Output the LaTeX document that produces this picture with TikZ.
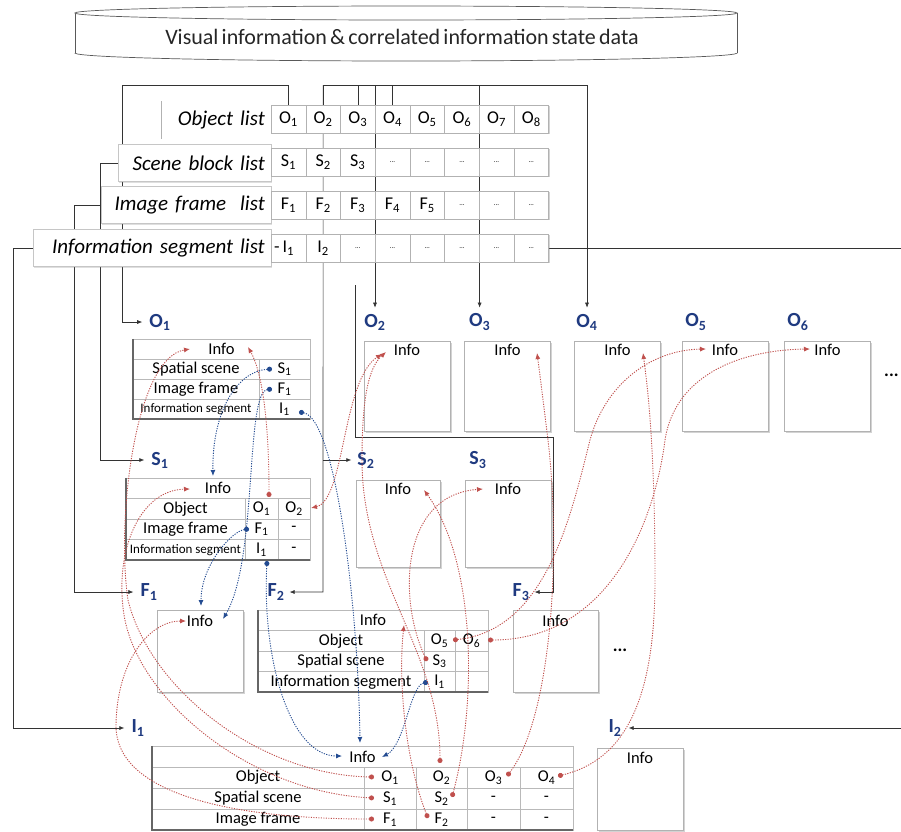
\documentclass[tikz,border=0pt]{standalone}
\usepackage{fontspec}
\setmainfont{Carlito}
\newfontfamily\tightfont{Carlito}[WordSpace=0.65]
\usetikzlibrary{arrows.meta,shadows,calc}
\definecolor{myred}{RGB}{192,80,77}
\definecolor{myblue}{RGB}{35,75,145}
\definecolor{labblue}{RGB}{31,58,128}
\newcommand{\sbs}[1]{\textsubscript{#1}}
\newcommand{\ldd}{{\fontsize{7}{7}\selectfont ...}}
\pgfdeclarelayer{bg}
\pgfsetlayers{bg,main}
\begin{document}
\begin{tikzpicture}[x=1pt,y=-1pt,
  conn/.style={draw=black!80, line width=0.6pt},
  arr/.style={arrows={-Latex[length=5pt,width=4pt]}},
  cyl/.style={draw=black!65, line width=0.7pt},
  cell/.style={draw=gray!60, fill=white, minimum height=28pt, minimum width=34.7pt, inner sep=0pt,
     font=\fontsize{18}{18}\selectfont, drop shadow={shadow xshift=1.2pt,shadow yshift=-1.2pt,opacity=0.35}},
  lblbox/.style={draw=gray!45, fill=white, minimum height=37pt, inner sep=6pt, anchor=east, align=right,
     font=\tightfont\fontsize{21}{21}\selectfont\itshape},
  dlab/.style={font=\fontsize{20}{20}\selectfont\bfseries, text=labblue, inner sep=1pt},
  tc/.style={draw=gray!55, fill=white, inner sep=0pt, font=\fontsize{16.5}{16.5}\selectfont},
  small/.style={font=\fontsize{13}{13}\selectfont},
  tframe/.style={draw=black!60, line width=1.5pt},
  ibox/.style={draw=gray!60, fill=white, minimum width=86pt, minimum height=90pt,
     drop shadow={shadow xshift=1.5pt,shadow yshift=-1.5pt,opacity=0.35}},
  itxt/.style={font=\fontsize{16.5}{16.5}\selectfont, inner sep=1pt},
  rc/.style={draw=myred, line width=0.9pt, dash pattern=on 1.2pt off 1.3pt,
     arrows={Circle[length=5pt]-Latex[length=6pt,width=5pt]}},
  bc/.style={draw=myblue, line width=0.9pt, dash pattern=on 1.2pt off 1.3pt,
     arrows={Circle[length=5pt]-Latex[length=6pt,width=5pt]}},
  bigdots/.style={font=\fontsize{18}{18}\selectfont\bfseries, inner sep=0pt}
]
\useasboundingbox (0,0) rectangle (901,831);

% ---------- database cylinder ----------
\begin{scope}
  \clip (60,53) rectangle (760,75);
  \draw[cyl] (406,53) ellipse[x radius=331, y radius=8];
\end{scope}
\draw[cyl] (75,13) -- (75,53);
\draw[cyl] (737,13) -- (737,53);
\draw[cyl, fill=white] (406,13) ellipse[x radius=331, y radius=7];
\node[font=\tightfont\fontsize{22}{22}\selectfont, text=black!85] (db) at (402,37) {Visual information \& correlated information state data};

% ---------- list label boxes ----------
\node[lblbox, text width=97pt, draw=none] (lobj) at (271,120) {Object list};
\node[lblbox, text width=141pt, drop shadow={shadow xshift=1.2pt,shadow yshift=-1.2pt,opacity=0.25}] (lscn) at (271,163) {Scene block list};
\node[lblbox, text width=158pt, drop shadow={shadow xshift=1.2pt,shadow yshift=-1.2pt,opacity=0.25}] (lfrm) at (271,205) {Image frame~ list};
\node[lblbox, text width=226pt, drop shadow={shadow xshift=1.2pt,shadow yshift=-1.2pt,opacity=0.25}] (lseg) at (271,248) {Information segment list};
\draw[gray!60] (lobj.north west) -- (lobj.south west);

% ---------- list cells ----------
\foreach \i/\t in {1/O\sbs{1},2/O\sbs{2},3/O\sbs{3},4/O\sbs{4},5/O\sbs{5},6/O\sbs{6},7/O\sbs{7},8/O\sbs{8}}
  \node[cell] (lo\i) at ({288.4+34.7*(\i-1)},119) {\t};
\foreach \i/\t in {1/S\sbs{1},2/S\sbs{2},3/S\sbs{3},4/\ldd,5/\ldd,6/\ldd,7/\ldd,8/\ldd}
  \node[cell] (ls\i) at ({288.4+34.7*(\i-1)},162) {\t};
\foreach \i/\t in {1/F\sbs{1},2/F\sbs{2},3/F\sbs{3},4/F\sbs{4},5/F\sbs{5},6/\ldd,7/\ldd,8/\ldd}
  \node[cell] (lf\i) at ({288.4+34.7*(\i-1)},205) {\t};
\foreach \i/\t in {1/\makebox[0pt][r]{-\hspace{3pt}}I\sbs{1},2/I\sbs{2},3/\ldd,4/\ldd,5/\ldd,6/\ldd,7/\ldd,8/\ldd}
  \node[cell] (li\i) at ({288.4+34.7*(\i-1)},248) {\t};

% ---------- detail labels ----------
\node[dlab] (o1lab) at (160,322) {O\sbs{1}};
\node[dlab] (o2lab) at (375,322) {O\sbs{2}};
\node[dlab] (o3lab) at (479.6,322) {O\sbs{3}};
\node[dlab] (o4lab) at (587,322) {O\sbs{4}};
\node[dlab] (o5lab) at (696,322) {O\sbs{5}};
\node[dlab] (o6lab) at (798,322) {O\sbs{6}};
\node[dlab] (s1lab) at (160,460) {S\sbs{1}};
\node[dlab] (s2lab) at (366,460) {S\sbs{2}};
\node[dlab] (s3lab) at (478,460) {S\sbs{3}};
\node[dlab] (f1lab) at (149,592) {F\sbs{1}};
\node[dlab] (f2lab) at (276,592) {F\sbs{2}};
\node[dlab] (f3lab) at (521,592) {F\sbs{3}};
\node[dlab] (i1lab) at (138,728) {I\sbs{1}};
\node[dlab] (i2lab) at (615,728) {I\sbs{2}};

% ---------- O1 table ----------
\node[tc, minimum width=177pt, minimum height=20pt] (o1i) at (221.5,349) {Info};
\node[tc, minimum width=126pt, minimum height=20pt] (o1r2a) at (196,369) {Spatial scene};
\node[tc, minimum width=51pt, minimum height=20pt] (o1r2b) at (284.5,369) {S\sbs{1}};
\node[tc, minimum width=126pt, minimum height=20pt] (o1r3a) at (196,389) {Image frame};
\node[tc, minimum width=51pt, minimum height=20pt] (o1r3b) at (284.5,389) {F\sbs{1}};
\node[tc, small, minimum width=126pt, minimum height=20pt] (o1r4a) at (196,409) {Information segment};
\node[tc, minimum width=51pt, minimum height=20pt] (o1r4b) at (284.5,409) {I\sbs{1}};
\draw[tframe] (o1i.north west) -- (o1r4a.south west) -- (o1r4b.south east);

% ---------- O2..O6 boxes ----------
\node[ibox] (o2b) at (407,386) {};   \node[itxt] (o2i) at (407,350) {Info};
\node[ibox] (o3b) at (507.5,386) {}; \node[itxt] (o3i) at (507.5,350) {Info};
\node[ibox] (o4b) at (617.5,386) {}; \node[itxt] (o4i) at (617.5,350) {Info};
\node[ibox] (o5b) at (725,386) {};   \node[itxt] (o5i) at (725,350) {Info};
\node[ibox] (o6b) at (827.5,386) {}; \node[itxt] (o6i) at (827.5,350) {Info};
\node[bigdots, anchor=west] (dots1) at (884,375) {...};

% ---------- S1 table ----------
\node[tc, minimum width=184pt, minimum height=20.5pt] (s1i) at (218,488.25) {Info};
\node[tc, minimum width=119pt, minimum height=20.5pt] (s1r2a) at (185.5,508.75) {Object};
\node[tc, minimum width=33pt, minimum height=20.5pt] (s1r2b) at (261.5,508.75) {O\sbs{1}};
\node[tc, minimum width=32pt, minimum height=20.5pt] (s1r2c) at (294,508.75) {O\sbs{2}};
\node[tc, minimum width=119pt, minimum height=20.5pt] (s1r3a) at (185.5,529.25) {Image frame};
\node[tc, minimum width=33pt, minimum height=20.5pt] (s1r3b) at (261.5,529.25) {F\sbs{1}};
\node[tc, minimum width=32pt, minimum height=20.5pt] (s1r3c) at (294,529.25) {-};
\node[tc, small, minimum width=119pt, minimum height=20.5pt] (s1r4a) at (185.5,549.75) {Information segment};
\node[tc, minimum width=33pt, minimum height=20.5pt] (s1r4b) at (261.5,549.75) {I\sbs{1}};
\node[tc, minimum width=32pt, minimum height=20.5pt] (s1r4c) at (294,549.75) {-};
\draw[tframe] (s1i.north west) -- (s1r4a.south west) -- (s1r4c.south east);

% ---------- S2, S3 boxes ----------
\node[ibox, minimum width=84pt, minimum height=87pt] (s2b) at (398,523.5) {}; \node[itxt] (s2i) at (398,489) {Info};
\node[ibox, minimum width=86pt, minimum height=87pt] (s3b) at (508,523.5) {}; \node[itxt] (s3i) at (508,489) {Info};

% ---------- F1 box, F2 table, F3 box ----------
\node[ibox, minimum height=82pt] (f1b) at (200,651) {}; \node[itxt] (f1i) at (200,621) {Info};
\node[tc, minimum width=230pt, minimum height=20.5pt] (f2i) at (373,620.25) {Info};
\node[tc, minimum width=166pt, minimum height=20.5pt] (f2r2a) at (341,640.75) {Object};
\node[tc, minimum width=31pt, minimum height=20.5pt] (f2r2b) at (439.5,640.75) {O\sbs{5}};
\node[tc, minimum width=33pt, minimum height=20.5pt] (f2r2c) at (471.5,640.75) {O\sbs{6}};
\node[tc, minimum width=166pt, minimum height=20.5pt] (f2r3a) at (341,661.25) {Spatial scene};
\node[tc, minimum width=31pt, minimum height=20.5pt] (f2r3b) at (439.5,661.25) {S\sbs{3}};
\node[tc, minimum width=33pt, minimum height=20.5pt] (f2r3c) at (471.5,661.25) {};
\node[tc, minimum width=166pt, minimum height=20.5pt] (f2r4a) at (341,681.75) {Information segment};
\node[tc, minimum width=31pt, minimum height=20.5pt] (f2r4b) at (439.5,681.75) {I\sbs{1}};
\node[tc, minimum width=33pt, minimum height=20.5pt] (f2r4c) at (471.5,681.75) {};
\draw[tframe] (f2i.north west) -- (f2r4a.south west) -- (f2r4c.south east);
\node[ibox, minimum width=85pt, minimum height=82pt] (f3b) at (555.5,651) {}; \node[itxt] (f3i) at (555.5,621) {Info};
\node[bigdots] (dots2) at (620,650) {...};

% ---------- I1 table, I2 box ----------
\node[tc, minimum width=421pt, minimum height=21pt] (i1i) at (362.5,756.5) {Info};
\node[tc, minimum width=212pt, minimum height=21pt] (i1r2a) at (258,777.5) {Object};
\node[tc, minimum width=52pt, minimum height=21pt] (i1r2b) at (390,777.5) {O\sbs{1}};
\node[tc, minimum width=51pt, minimum height=21pt] (i1r2c) at (441.5,777.5) {O\sbs{2}};
\node[tc, minimum width=53pt, minimum height=21pt] (i1r2d) at (493.5,777.5) {O\sbs{3}};
\node[tc, minimum width=53pt, minimum height=21pt] (i1r2e) at (546.5,777.5) {O\sbs{4}};
\node[tc, minimum width=212pt, minimum height=21pt] (i1r3a) at (258,798.5) {Spatial scene};
\node[tc, minimum width=52pt, minimum height=21pt] (i1r3b) at (390,798.5) {S\sbs{1}};
\node[tc, minimum width=51pt, minimum height=21pt] (i1r3c) at (441.5,798.5) {S\sbs{2}};
\node[tc, minimum width=53pt, minimum height=21pt] (i1r3d) at (493.5,798.5) {-};
\node[tc, minimum width=53pt, minimum height=21pt] (i1r3e) at (546.5,798.5) {-};
\node[tc, minimum width=212pt, minimum height=21pt] (i1r4a) at (258,819.5) {Image frame};
\node[tc, minimum width=52pt, minimum height=21pt] (i1r4b) at (390,819.5) {F\sbs{1}};
\node[tc, minimum width=51pt, minimum height=21pt] (i1r4c) at (441.5,819.5) {F\sbs{2}};
\node[tc, minimum width=53pt, minimum height=21pt] (i1r4d) at (493.5,819.5) {-};
\node[tc, minimum width=53pt, minimum height=21pt] (i1r4e) at (546.5,819.5) {-};
\draw[tframe] (i1i.north west) -- (i1r4a.south west) -- (i1r4e.south east);
\node[ibox, minimum height=82pt] (i2b) at (640,789) {}; \node[itxt] (i2i) at (640,758) {Info};

% ---------- black connectors (behind) ----------
\begin{pgfonlayer}{bg}
  \coordinate (ctopL) at (122,85);
  \coordinate (ctopR) at (587,85);
  \coordinate (cs1) at (100,460);
  \coordinate (cf1) at (74,592);
  \coordinate (ci1) at (13,728);
  \coordinate (ci2) at (906,728);
  \coordinate (cs2) at (323,460);
  \coordinate (cf2) at (323,592);
  \coordinate (cf3a) at (355,285);
  \coordinate (cf3b) at (553,437);
  \draw[conn,arr,shorten >=6pt] (lo1.north) |- (ctopL) |- (o1lab.west);
  \draw[conn] (lo2.north) |- (ctopR);
  \draw[conn,arr,shorten >=5pt] (ctopR) -- (o4lab.north);
  \draw[conn] (lo3.north) -- (lo3.north |- ctopR);
  \draw[conn] (lo4.north) -- (lo4.north |- ctopR);
  \draw[conn,arr,shorten >=5pt] (o2lab.north |- ctopR) -- (o2lab.north);
  \draw[conn,arr,shorten >=5pt] (o3lab.north |- ctopR) -- (o3lab.north);
  \draw[conn,arr,shorten >=4pt] (lo2.north |- ctopR) -- (cf2) -- (f2lab.east);
  \draw[conn,arr,shorten >=5pt] (cs2) -- (s2lab.west);
  \draw[conn,arr,shorten >=6pt] (lscn.west) -| (cs1) -- (s1lab.west);
  \draw[conn,arr,shorten >=6pt] (lfrm.west) -| (cf1) -- (f1lab.west);
  \draw[conn,arr,shorten >=6pt] (lseg.west) -| (ci1) -- (i1lab.west);
  \draw[conn,arr,shorten >=6pt] (li8.east) -| (ci2) -- (i2lab.east);
  \draw[conn,arr,shorten >=4pt] (cf3a) |- (cf3b) |- (f3lab.east);
\end{pgfonlayer}

% ---------- blue dotted connectors ----------
\coordinate (b1s) at (272,369); \coordinate (b1e) at (213,476);
\coordinate (b2s) at (272,389); \coordinate (b2e) at (223,619);
\coordinate (b3s) at (249,529); \coordinate (b3e) at (201,606);
\coordinate (b4s) at (299,412); \coordinate (b4e) at (360,743);
\coordinate (b5s) at (267,561); \coordinate (b5e) at (342,756);
\coordinate (b6s) at (428,682); \coordinate (b6e) at (382,757);
\draw[bc] (b1s) .. controls (238,371) and (212,410) .. (b1e);
\draw[bc] (b2s) .. controls (245,392) and (258,560) .. (b2e);
\draw[bc] (b3s) .. controls (232,531) and (201,565) .. (b3e);
\draw[bc] (b4s) .. controls (335,418) and (358,600) .. (b4e);
\draw[bc] (b5s) .. controls (262,660) and (290,756) .. (b5e);
\draw[bc] (b6s) .. controls (410,686) and (405,745) .. (b6e);

% ---------- red dotted connectors ----------
\coordinate (r1s) at (374,777); \coordinate (r1e) at (190,349);
\coordinate (r2s) at (374,798); \coordinate (r2e) at (190,489);
\coordinate (r3s) at (374,819); \coordinate (r3e) at (186,621);
\coordinate (r4s) at (269,497); \coordinate (r4e) at (248,347);
\coordinate (r5s) at (311,508); \coordinate (r5e) at (382,354);
\coordinate (r6s) at (440,763); \coordinate (r6e) at (386,352);
\coordinate (r7s) at (452,797); \coordinate (r7e) at (424,490);
\coordinate (r8s) at (428,818); \coordinate (r8e) at (404,625);
\coordinate (r9s) at (427,661); \coordinate (r9e) at (483,489);
\coordinate (r10s) at (453,640); \coordinate (r10e) at (706,349);
\coordinate (r11s) at (488,640); \coordinate (r11e) at (810,349);
\coordinate (r12s) at (507,776); \coordinate (r12e) at (537,353);
\coordinate (r13s) at (558,776); \coordinate (r13e) at (643,353);
\draw[rc] (r1s) .. controls (260,775) and (150,690) .. (128,600) .. controls (116,520) and (135,358) .. (r1e);
\draw[rc] (r2s) .. controls (250,792) and (138,700) .. (124,615) .. controls (114,550) and (140,490) .. (r2e);
\draw[rc] (r3s) .. controls (220,819) and (115,790) .. (116,725) .. controls (117,660) and (150,621) .. (r3e);
\draw[rc] (r4s) .. controls (269,420) and (262,372) .. (r4e);
\draw[rc, arrows={Latex[length=6pt,width=5pt]-Latex[length=6pt,width=5pt]}] (r5s) .. controls (345,500) and (342,380) .. (r5e);
\draw[rc] (r6s) .. controls (440,650) and (362,580) .. (362,460) .. controls (362,400) and (368,368) .. (r6e);
\draw[rc] (r7s) .. controls (478,700) and (475,560) .. (r7e);
\draw[rc] (r8s) .. controls (405,760) and (398,680) .. (r8e);
\draw[rc] (r9s) .. controls (398,600) and (400,495) .. (r9e);
\draw[rc] (r10s) .. controls (545,630) and (570,520) .. (590,440) .. controls (605,385) and (650,350) .. (r10e);
\draw[rc] (r11s) .. controls (610,640) and (655,520) .. (665,440) .. controls (675,375) and (740,350) .. (r11e);
\draw[rc] (r12s) .. controls (550,720) and (562,560) .. (548,440) .. controls (543,400) and (540,375) .. (r12e);
\draw[rc] (r13s) .. controls (625,760) and (655,700) .. (655,580) .. controls (655,450) and (648,390) .. (r13e);
\end{tikzpicture}
\end{document}
